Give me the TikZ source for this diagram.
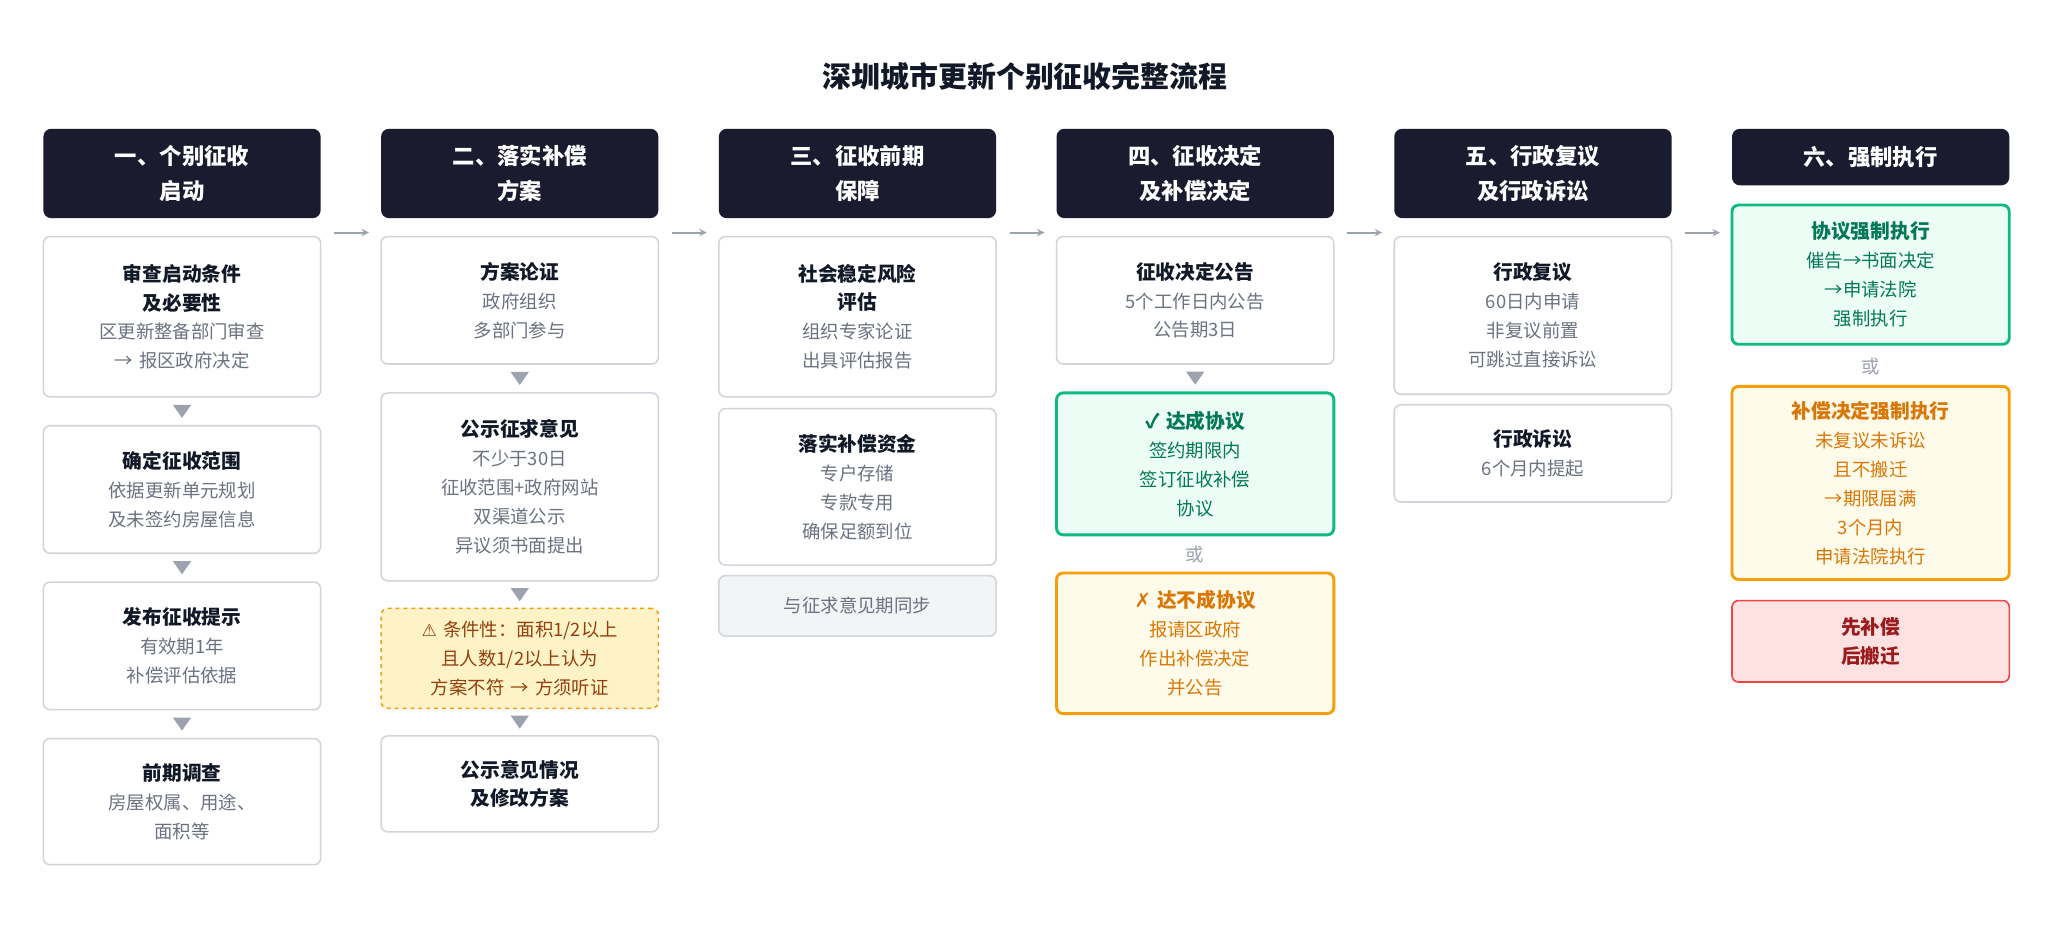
\documentclass[tikz,border=0pt]{standalone}
\usepackage{fontspec}
\setmainfont{Noto Sans CJK SC}
\newfontfamily\sym{DejaVu Sans}
\usetikzlibrary{calc}
\definecolor{hdrc}{HTML}{1B1B2F}
\definecolor{bordc}{HTML}{D1D5DB}
\definecolor{bodyc}{HTML}{6B7280}
\definecolor{titc}{HTML}{111827}
\definecolor{grnb}{HTML}{10B981}
\definecolor{grnf}{HTML}{ECFDF5}
\definecolor{grnt}{HTML}{047857}
\definecolor{orgb}{HTML}{F59E0B}
\definecolor{orgf}{HTML}{FFFBEB}
\definecolor{orgt}{HTML}{D97706}
\definecolor{yelf}{HTML}{FEF3C7}
\definecolor{yelt}{HTML}{92400E}
\definecolor{gryf}{HTML}{F3F4F6}
\definecolor{redb}{HTML}{EF4444}
\definecolor{redf}{HTML}{FEE2E2}
\definecolor{redt}{HTML}{991B1B}
\definecolor{arrc}{HTML}{9CA3AF}
\tikzset{
  hdr/.style={fill=hdrc, rounded corners=6pt, text=white, align=center,
    font=\bfseries\fontsize{17}{26}\selectfont, minimum width=211pt, text width=200pt},
  box/.style={draw=bordc, line width=1.2pt, fill=white, rounded corners=5pt, align=center,
    text=bodyc, font=\fontsize{14}{22}\selectfont, minimum width=211pt, text width=200pt},
  okbox/.style={box, draw=grnb, line width=2.2pt, fill=grnf, text=grnt},
  nobox/.style={box, draw=orgb, line width=2.2pt, fill=orgf, text=orgt},
  warnbox/.style={box, draw=orgb, dashed, fill=yelf, text=yelt},
  graybox/.style={box, fill=gryf},
  redbox/.style={box, draw=redb, fill=redf, text=redt},
  ortext/.style={text=arrc, font=\fontsize{14}{18}\selectfont},
  flow/.style={draw=arrc, line width=1.5pt, -stealth},
}
\newcommand{\ttl}[1]{{\bfseries\fontsize{15}{24}\selectfont\color{titc}#1}}
\newcommand{\ctl}[1]{{\bfseries\fontsize{15}{24}\selectfont#1}}
\newcommand{\tri}[2]{\fill[arrc] ($(#1.south)!0.5!(#2.north)+(-7,-5)$) -- ++(14,0) -- ++(-7,10) -- cycle;}
\begin{document}
\begin{tikzpicture}[x=1pt,y=-1pt]
\useasboundingbox[fill=white] (0,0) rectangle (1560,710);

% title
\node[font=\bfseries\fontsize{22}{26}\selectfont, text=titc] (title) at (780,58) {深圳城市更新个别征收完整流程};

% headers
\node[hdr, minimum height=68pt] (h1) at (138.5,132) {一、个别征收\\启动};
\node[hdr, minimum height=68pt] (h2) at (395.5,132) {二、落实补偿\\方案};
\node[hdr, minimum height=68pt] (h3) at (652.5,132) {三、征收前期\\保障};
\node[hdr, minimum height=68pt] (h4) at (909.5,132) {四、征收决定\\及补偿决定};
\node[hdr, minimum height=68pt] (h5) at (1166.5,132) {五、行政复议\\及行政诉讼};
\node[hdr, minimum height=43pt] (h6) at (1423.5,119.5) {六、强制执行};

% arrows between stages
\foreach \a/\b in {h1/h2,h2/h3,h3/h4,h4/h5}
  \draw[flow] ($(\a.east)+(10,45)$) -- ($(\b.west)+(-9,45)$);
\draw[flow] ($(h5.east)+(10,45)$) -- ($(h6.west |- h5.east)+(-9,45)$);

% column 1
\node[box, minimum height=122pt] (c1a) at (138.5,241) {\ttl{审查启动条件}\\\ttl{及必要性}\\区更新整备部门审查\\→ 报区政府决定};
\node[box, minimum height=97pt] (c1b) at (138.5,372.5) {\ttl{确定征收范围}\\依据更新单元规划\\及未签约房屋信息};
\node[box, minimum height=97pt] (c1c) at (138.5,491.5) {\ttl{发布征收提示}\\有效期1年\\补偿评估依据};
\node[box, minimum height=96pt] (c1d) at (138.5,610) {\ttl{前期调查}\\房屋权属、用途、\\面积等};
\tri{c1a}{c1b}
\tri{c1b}{c1c}
\tri{c1c}{c1d}

% column 2
\node[box, minimum height=97pt] (c2a) at (395.5,228.5) {\ttl{方案论证}\\政府组织\\多部门参与};
\node[box, minimum height=143pt] (c2b) at (395.5,370.5) {\ttl{公示征求意见}\\不少于30日\\征收范围+政府网站\\双渠道公示\\异议须书面提出};
\node[warnbox, minimum height=76pt] (c2c) at (395.5,501) {{\sym\fontsize{13}{22}\selectfont ⚠} 条件性：面积1/2以上\\且人数1/2以上认为\\方案不符 → 方须听证};
\node[box, minimum height=73pt] (c2d) at (395.5,596.5) {\ttl{公示意见情况}\\\ttl{及修改方案}};
\tri{c2a}{c2b}
\tri{c2b}{c2c}
\tri{c2c}{c2d}

% column 3
\node[box, minimum height=122pt] (c3a) at (652.5,241) {\ttl{社会稳定风险}\\\ttl{评估}\\组织专家论证\\出具评估报告};
\node[box, minimum height=119pt] (c3b) at (652.5,370.5) {\ttl{落实补偿资金}\\专户存储\\专款专用\\确保足额到位};
\node[graybox, minimum height=46pt] (c3c) at (652.5,461) {与征求意见期同步};

% column 4
\node[box, minimum height=97pt] (c4a) at (909.5,228.5) {\ttl{征收决定公告}\\5个工作日内公告\\公告期3日};
\node[okbox, minimum height=108pt] (c4b) at (909.5,353) {\ctl{✓ 达成协议}\\签约期限内\\签订征收补偿\\协议};
\node[ortext] (c4or) at (909.5,422) {或};
\node[nobox, minimum height=107pt] (c4c) at (909.5,489.5) {\ctl{{\sym ✗} 达不成协议}\\报请区政府\\作出补偿决定\\并公告};
\tri{c4a}{c4b}

% column 5
\node[box, minimum height=120pt] (c5a) at (1166.5,240) {\ttl{行政复议}\\60日内申请\\非复议前置\\可跳过直接诉讼};
\node[box, minimum height=74pt] (c5b) at (1166.5,345) {\ttl{行政诉讼}\\6个月内提起};

% column 6
\node[okbox, minimum height=106pt] (c6a) at (1423.5,209) {\ctl{协议强制执行}\\催告→书面决定\\→申请法院\\强制执行};
\node[ortext] (c6or) at (1423.5,279) {或};
\node[nobox, minimum height=147pt] (c6b) at (1423.5,367.5) {\ctl{补偿决定强制执行}\\未复议未诉讼\\且不搬迁\\→期限届满\\3个月内\\申请法院执行};
\node[redbox, minimum height=62pt] (c6c) at (1423.5,488) {\ctl{先补偿}\\\ctl{后搬迁}};

\end{tikzpicture}
\end{document}
